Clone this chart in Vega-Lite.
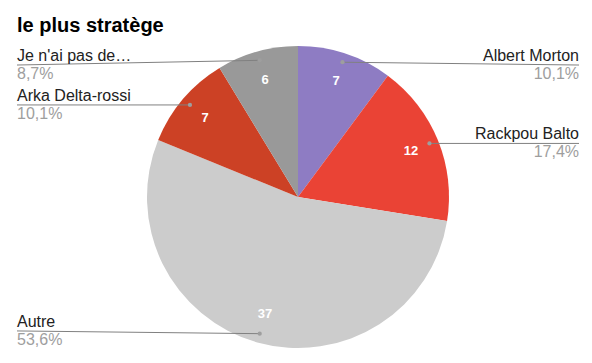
{
  "$schema": "https://vega.github.io/schema/vega-lite/v6.json",
  "width": 592,
  "height": 363,
  "autosize": "none",
  "padding": 0,
  "background": "white",
  "title": {
    "text": "le plus stratège",
    "anchor": "start",
    "frame": "group",
    "font": "Liberation Sans",
    "fontSize": 20,
    "fontWeight": "bold",
    "color": "#000000",
    "baseline": "alphabetic",
    "offset": 0,
    "dx": 17,
    "dy": 52
  },
  "data": {
    "values": [
      {"name": "Albert Morton", "value": 7, "pct": "10,1%", "ord": 1},
      {"name": "Rackpou Balto", "value": 12, "pct": "17,4%", "ord": 2},
      {"name": "Autre", "value": 37, "pct": "53,6%", "ord": 3},
      {"name": "Arka Delta-rossi", "value": 7, "pct": "10,1%", "ord": 4},
      {"name": "Je n'ai pas de…", "value": 6, "pct": "8,7%", "ord": 5}
    ]
  },
  "layer": [
    {
      "mark": {"type": "arc", "outerRadius": 151},
      "encoding": {
        "theta": {"field": "value", "type": "quantitative", "stack": true},
        "order": {"field": "ord", "type": "quantitative"},
        "color": {
          "field": "name",
          "type": "nominal",
          "scale": {
            "domain": ["Albert Morton", "Rackpou Balto", "Autre", "Arka Delta-rossi", "Je n'ai pas de…"],
            "range": ["#8e7cc3", "#ea4335", "#cccccc", "#cc4125", "#999999"]
          },
          "legend": null
        },
        "x": {"datum": 0, "type": "quantitative", "scale": {"domain": [-1.9735, 1.947], "nice": false, "zero": false}, "axis": null},
        "y": {"datum": 0, "type": "quantitative", "scale": {"domain": [-1.0993, 1.3046], "nice": false, "zero": false}, "axis": null}
      }
    },
    {
      "mark": {"type": "text", "radius": 122, "font": "Liberation Sans", "fontSize": 13, "fontWeight": "bold", "fill": "#ffffff"},
      "encoding": {
        "theta": {"field": "value", "type": "quantitative", "stack": true},
        "order": {"field": "ord", "type": "quantitative"},
        "text": {"field": "value", "type": "quantitative"},
        "x": {"datum": 0, "type": "quantitative"},
        "y": {"datum": 0, "type": "quantitative"}
      }
    },
    {
      "transform": [
        {"joinaggregate": [{"op": "sum", "field": "value", "as": "total"}]},
        {"window": [{"op": "sum", "field": "value", "as": "cum"}], "sort": [{"field": "ord", "order": "ascending"}], "frame": [null, 0]},
        {"calculate": "2 * PI * (datum.cum - datum.value / 2) / datum.total", "as": "mid"},
        {"calculate": "0.94 * sin(datum.mid)", "as": "px"},
        {"calculate": "0.94 * cos(datum.mid)", "as": "py"},
        {"calculate": "datum.mid > PI ? 'left' : 'right'", "as": "side"},
        {"calculate": "datum.side == 'left' ? -1.861 : 1.861", "as": "lx"},
        {"calculate": "clamp(datum.py, -0.887, 0.874)", "as": "ly"}
      ],
      "layer": [
        {
          "mark": {"type": "rule", "stroke": "#808080", "strokeWidth": 1},
          "encoding": {
            "x": {"field": "px", "type": "quantitative"},
            "y": {"field": "py", "type": "quantitative"},
            "x2": {"field": "lx"},
            "y2": {"field": "ly"}
          }
        },
        {
          "mark": {"type": "point", "filled": true, "size": 18, "color": "#9e9e9e", "opacity": 1},
          "encoding": {
            "x": {"field": "px", "type": "quantitative"},
            "y": {"field": "py", "type": "quantitative"}
          }
        },
        {
          "transform": [{"filter": "datum.side == 'left'"}],
          "mark": {"type": "text", "align": "left", "baseline": "alphabetic", "dy": -4, "font": "Liberation Sans", "fontSize": 16, "fill": "#222222"},
          "encoding": {
            "x": {"field": "lx", "type": "quantitative"},
            "y": {"field": "ly", "type": "quantitative"},
            "text": {"field": "name"}
          }
        },
        {
          "transform": [{"filter": "datum.side == 'right'"}],
          "mark": {"type": "text", "align": "right", "baseline": "alphabetic", "dy": -4, "font": "Liberation Sans", "fontSize": 16, "fill": "#222222"},
          "encoding": {
            "x": {"field": "lx", "type": "quantitative"},
            "y": {"field": "ly", "type": "quantitative"},
            "text": {"field": "name"}
          }
        },
        {
          "transform": [{"filter": "datum.side == 'left'"}],
          "mark": {"type": "text", "align": "left", "baseline": "alphabetic", "dy": 14, "font": "Liberation Sans", "fontSize": 16, "fill": "#9e9e9e"},
          "encoding": {
            "x": {"field": "lx", "type": "quantitative"},
            "y": {"field": "ly", "type": "quantitative"},
            "text": {"field": "pct"}
          }
        },
        {
          "transform": [{"filter": "datum.side == 'right'"}],
          "mark": {"type": "text", "align": "right", "baseline": "alphabetic", "dy": 14, "font": "Liberation Sans", "fontSize": 16, "fill": "#9e9e9e"},
          "encoding": {
            "x": {"field": "lx", "type": "quantitative"},
            "y": {"field": "ly", "type": "quantitative"},
            "text": {"field": "pct"}
          }
        }
      ]
    }
  ],
  "config": {"view": {"stroke": null}}
}
